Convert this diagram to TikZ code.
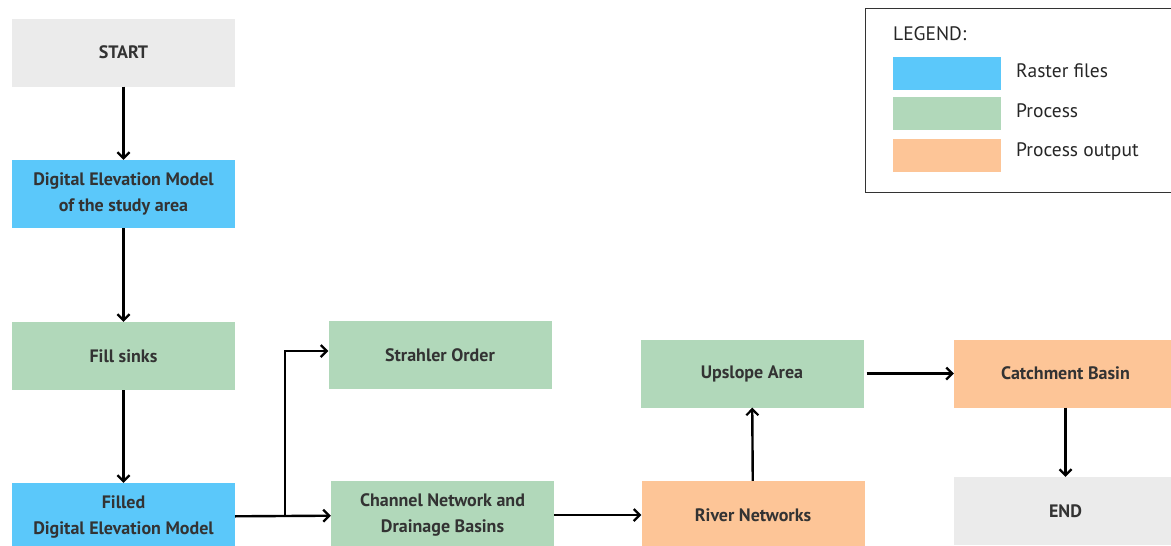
\documentclass[tikz,border=0pt]{standalone}
\usepackage{fontspec}
\setmainfont{PT Sans}
\usetikzlibrary{arrows.meta}
\definecolor{rastercol}{RGB}{91,200,250}
\definecolor{processcol}{RGB}{177,216,186}
\definecolor{outputcol}{RGB}{253,197,151}
\definecolor{termcol}{RGB}{235,235,235}
\tikzset{
    box/.style={minimum width=223pt, minimum height=68pt, inner sep=0pt, align=center,
        font=\bfseries\fontsize{18}{26}\selectfont, text=black!80},
    terminal/.style={box, fill=termcol},
    raster/.style={box, fill=rastercol},
    process/.style={box, fill=processcol},
    output/.style={box, fill=outputcol},
    swatch/.style={minimum width=108pt, minimum height=33pt, inner sep=0pt},
    legtext/.style={anchor=west, inner sep=0pt, font=\fontsize{19.5}{22}\selectfont, text=black!85},
    flow/.style={line width=2.4pt, -{Straight Barb[length=6pt,width=12pt,line width=2.2pt]}}
}
\begin{document}
\begin{tikzpicture}[x=1pt,y=-1pt]
        \useasboundingbox (0,0) rectangle (1171,546);
        \clip (0,0) rectangle (1171,546);
        %draw the main column of boxes
        \node[terminal] (start) at (123.5,52.5) {START};
        \node[raster] (dem) at (123.5,194) {Digital Elevation Model\\of the study area};
        \node[process] (fill) at (123.5,356) {Fill sinks};
        \node[raster] (filled) at (123.5,517) {Filled\\Digital Elevation Model};
        
        \node[process] (strahler) at (440,355) {Strahler Order};
        \node[process] (channel) at (442.5,515) {Channel Network and\\Drainage Basins};
        \node[output] (river) at (753,515) {River Networks};
        \node[process] (upslope) at (752,373.5) {Upslope Area};
        \node[output] (catch) at (1065.5,373.5) {Catchment Basin};
        \node[terminal] (end) at (1065.5,511) {END};
        
        %draw the arrows
        \coordinate (split) at (285,517);
        \draw[flow] (start) -- (dem);
        \draw[flow] (dem) -- (fill);
        \draw[flow] (fill) -- (filled);
        \draw[flow] (filled) -- (channel);
        \draw[flow] (split) |- ([yshift=4pt]strahler.west);
        \draw[flow] (channel) -- (river);
        \draw[flow] (river) -- (upslope);
        \draw[flow] ([xshift=3pt]upslope.east) -- (catch);
        \draw[flow] (catch) -- (end);
        
        %draw the legend
        \node[draw=black!80, line width=1.2pt, minimum width=320pt, minimum height=184pt, anchor=north west] (legend) at (865,8) {};
        \node[legtext] (legtitle) at (893,34) {LEGEND:};
        \node[swatch, fill=rastercol] (sw1) at (947,73) {};
        \node[swatch, fill=processcol] (sw2) at (947,113.5) {};
        \node[swatch, fill=outputcol] (sw3) at (947,155) {};
        \node[legtext] (lab1) at (1016,71) {Raster files};
        \node[legtext] (lab2) at (1016,111) {Process};
        \node[legtext] (lab3) at (1016,152) {Process output};
        
\end{tikzpicture}
\end{document}
